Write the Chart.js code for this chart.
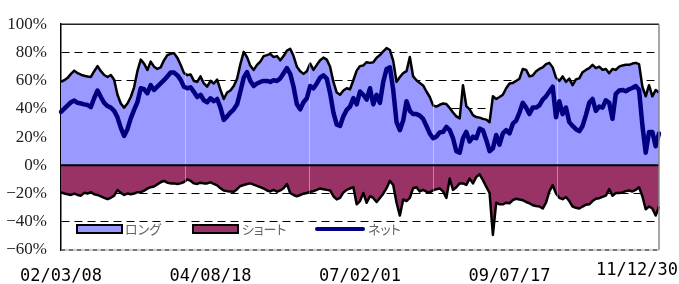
<!DOCTYPE html>
<html>
<head>
<meta charset="utf-8">
<script src="https://cdn.jsdelivr.net/npm/chart.js@4.4.1/dist/chart.umd.min.js"></script>
<style>
  html, body { margin: 0; padding: 0; background: #fff; }
  #wrap { position: relative; width: 679px; height: 284px; }
  #legend { position: absolute; left: 0; top: 0; font-family: "Noto Sans CJK JP", sans-serif; font-size: 13px; color: #666; font-feature-settings: "palt"; }
  .sw { position: absolute; box-sizing: border-box; border: 2px solid #000; width: 47px; height: 10px; top: 224px; }
  .ln { position: absolute; top: 227px; width: 50px; height: 4px; border-radius: 2px; }
  .lbl { position: absolute; top: 219px; line-height: 20px; white-space: nowrap; }
</style>
</head>
<body>
<div id="wrap">
  <canvas id="c" width="679" height="284"></canvas>
  <div id="legend"></div>
</div>
<script>
const tickLabels = ['02/03/08', '04/08/18', '07/02/01', '09/07/17', '11/12/30'];
const seriesNames = ['ロング', 'ショート', 'ネット'];

const longPct = [
  59.1, 60.3, 62, 64.8, 67.1, 65.3, 64.2, 63.5, 63, 62.6, 66.7, 70.3, 66.7, 64, 62.6, 64, 60.7, 50, 43.8, 40.9,
  43.8, 48.4, 55.3, 66.7, 74.9, 72.1, 67.6, 73.5, 69.9, 68.3, 69.4,
  74.4, 78.1, 79, 79.5, 76.3, 71.2, 65.5, 63.9, 64.4, 59.8, 59.1, 63, 58, 55.7, 59.8, 58, 60.7, 53.4, 47, 51.6,
  53, 56.2, 61.4, 71.7, 80.4, 76.7, 70.5, 67.6, 71.2, 73.5,
  77.4, 78.1, 79, 76.7, 77.4, 74.4, 77.4, 81.3, 82.6, 77.4, 69.9, 66.7, 64.8, 66.7, 72.1, 67.6, 71.2, 74.4, 76.3, 74.9,
  69.9, 59.1, 51.6, 50, 53, 54.6, 53.9, 60.3, 67.1, 70.3,
  70.8, 73.1, 72.6, 73.1, 76.3, 78.1, 80.8, 83.1, 81.7, 74, 59.1, 62.6, 65.3, 66.7, 76.7, 63, 60.3, 58.4, 56.6, 52.3,
  48.4, 42.5, 41.6, 42.9, 43.8, 43.4, 40.6, 37.4, 34.7, 33.3,
  56.8, 42, 39.7, 35.6, 34.2, 33.8, 32.9, 32.4, 30.6, 48.9, 47, 48.4, 50, 54.6, 58, 58.4, 59.8, 61.4, 68.3, 67.6,
  63, 63.7, 66.7, 68.3, 69.4, 71.7, 72.6, 69.4, 62.1, 59.8,
  63, 59.1, 61.4, 56.8, 60.9, 61.6, 66, 67.6, 68.9, 71.2, 68.9, 69.9, 67.6, 68.3, 65.3, 68.3, 67.6, 69.9, 70.8, 71.2,
  71.2, 72.1, 72.6, 71.7, 55.7, 48.9, 56.8, 48.9, 53.4, 51.6
];

// short positions (%), bottom black edge of the maroon area
const shortPct = [
  -19, -20, -20.5, -21, -20, -21, -21.5, -19.5, -20, -19, -20.5, -21, -22, -23, -24, -23, -21.5, -17.5, -19.5, -21,
  -20, -20.5, -20, -19, -19, -18, -16.5, -15.5, -15, -13.5, -12,
  -11, -12.3, -12.8, -12.8, -13.2, -12.8, -11.9, -10, -11, -12.8, -13.2, -12.3, -12.8, -12.8, -12.1, -13.2, -14.2, -16.2, -17.8, -18.3,
  -18.5, -18.7, -16.9, -14.6, -13.9, -13.2, -12.8, -13.7, -14.6, -15.5,
  -16.4, -17.8, -18.5, -17.4, -18.7, -17.8, -16.2, -13.2, -19.6, -21, -21.9, -21, -20.1, -19.6, -18.7, -18.3, -17.4, -16.4, -16.9, -17.4,
  -17.8, -21.9, -24.2, -23.1, -19.2, -17.4, -16.4, -15.5, -27.6, -25.3,
  -19.6, -26.5, -21.9, -23.1, -26, -23.1, -20.1, -16.2, -11, -13.9, -26.5, -35.6, -24.2, -25.3, -23.1, -16.2, -15.5, -18.5, -17.4, -18.7,
  -19.2, -17.8, -16.9, -16.4, -18.5, -23.1, -9.4, -17.4, -15.5, -12.8,
  -12.8, -13.9, -9.4, -12.8, -8.2, -6.4, -10.5, -15.1, -19.6, -49.3, -26.5, -27.6, -27.6, -26.5, -26.9, -24.7, -23.7, -24.2, -24.7, -26,
  -26.9, -28.3, -28.8, -29.2, -30.6, -26.5, -18.5, -14, -20, -23,
  -24, -22.4, -25.3, -29.2, -30.1, -30.6, -29.2, -27.9, -27.6, -25.3, -23.7, -23.3, -22.4, -21.5, -16.9, -21.5, -19.6, -19.6, -19.2, -18.3,
  -17.8, -18.5, -17.4, -15.5, -21.9, -31.1, -29.2, -30.6, -35.6, -29.2
];

// net (%), the thick navy line
const netPct = [
  37.9, 40.2, 42.5, 44.7, 45.9, 44.3, 43.8, 43.2, 42.7, 41.3, 47.7, 53, 48.4, 44.3, 42, 40.9, 38.6, 34, 26.5, 20.8,
  25.6, 33.3, 39.3, 44.7, 54.6, 53.9, 51.1, 56.8, 53.4, 55.7, 58,
  60.3, 63, 65.8, 65.8, 63.9, 60.7, 55.7, 54.6, 55.3, 52.1, 48.4, 50, 46.1, 44.7, 47.5, 45.4, 47, 40.9, 32.2, 34.7,
  37.4, 39.7, 43.2, 52.3, 62.1, 66, 59.8, 56.2, 58, 59.1,
  59.8, 59.8, 59.1, 60.3, 59.8, 61.6, 65.3, 68.9, 64.8, 55.7, 43.2, 39.7, 44.7, 47.5, 56.2, 54.6, 58, 62.1, 63.7, 61.4,
  51.1, 37.4, 28.8, 27.9, 34.7, 39.3, 41.6, 47.7, 43.2, 52.3,
  50, 46.6, 54.6, 43.2, 50, 44.3, 59.1, 68.3, 69.4, 53.4, 30.6, 24.9, 31.7, 45.4, 38.6, 36.3, 36.3, 35.2, 32.9, 27.9,
  22.6, 19.2, 20.3, 23.3, 23.7, 27.2, 24.9, 19.2, 10, 8.9,
  19.2, 23.7, 16.9, 20.3, 19.2, 26, 24.9, 18, 10, 12, 21.5, 14.6, 22.6, 24.9, 22.6, 29.5, 31.7, 37.4, 44.3, 40.9,
  36.3, 40.9, 40.9, 42.5, 46.6, 48.9, 52.3, 55.7, 34, 45.4,
  36.3, 40.9, 30.6, 27.9, 25.6, 24.2, 27.9, 35.6, 44.3, 47, 38.6, 41.6, 40.9, 46.1, 44.3, 32.9, 50.7, 53, 53.4, 52.5,
  53.9, 54.8, 56.2, 53.4, 28.3, 8.9, 23.7, 23.7, 13.5, 22.6
];

const colors = { long: '#9999ff', short: '#993366', net: '#000080' };

// one date label every `step` points, blank in between
const step = (longPct.length - 1) / (tickLabels.length - 1);
const labels = longPct.map((v, i) => (i % step === 0 ? tickLabels[i / step] : ''));
const lastIdx = labels.length - 1;

const xFont = { family: 'DejaVu Sans Mono', size: 17 };

// plot frame, zero line, the faint seams in the fills, and the last date label
const framePlugin = {
  id: 'frame',
  beforeDatasetDraw(chart, args) {
    if (args.index !== 0) return; // just before the net line
    const { ctx, chartArea: a, scales: { x, y } } = chart;
    ctx.save();
    ctx.strokeStyle = 'rgba(255,255,255,0.4)';
    ctx.lineWidth = 1;
    [1, 2, 3, 4].forEach(i => {
      const px = Math.round(x.getPixelForDecimal(i * 124 / 598)) + 0.5;
      ctx.beginPath(); ctx.moveTo(px, a.top); ctx.lineTo(px, a.bottom); ctx.stroke();
    });
    const y0 = y.getPixelForValue(0);
    ctx.strokeStyle = '#000';
    ctx.lineWidth = 2;
    ctx.beginPath(); ctx.moveTo(a.left, y0); ctx.lineTo(a.right, y0); ctx.stroke();
    ctx.restore();
  },
  afterDraw(chart) {
    const { ctx, chartArea: a } = chart;
    ctx.save();
    ctx.lineWidth = 1.5;
    ctx.strokeStyle = '#222';
    ctx.beginPath(); ctx.moveTo(a.left, a.top); ctx.lineTo(a.right, a.top); ctx.stroke();
    ctx.strokeStyle = '#888';
    ctx.beginPath(); ctx.moveTo(a.right, a.top); ctx.lineTo(a.right, a.bottom); ctx.stroke();
    ctx.strokeStyle = '#bbb';
    ctx.beginPath(); ctx.moveTo(a.left, a.bottom); ctx.lineTo(a.right, a.bottom); ctx.stroke();
    ctx.strokeStyle = '#555';
    ctx.setLineDash([4, 4]);
    ctx.beginPath(); ctx.moveTo(a.left, a.bottom); ctx.lineTo(a.right, a.bottom); ctx.stroke();
    ctx.setLineDash([]);
    // Excel pushed this one inside the page and a bit higher
    ctx.font = xFont.size + 'px "' + xFont.family + '"';
    ctx.fillStyle = '#000';
    ctx.textAlign = 'right';
    ctx.textBaseline = 'middle';
    ctx.fillText(tickLabels[tickLabels.length - 1], chart.width - 1, 271);
    ctx.restore();
  }
};

new Chart(document.getElementById('c'), {
  type: 'line',
  data: {
    labels: labels,
    datasets: [
      { label: seriesNames[2], data: netPct, borderColor: colors.net, borderWidth: 4.5, fill: false, order: 0,
        borderJoinStyle: 'round', borderCapStyle: 'round' },
      { label: seriesNames[0], data: longPct, borderColor: '#000', borderWidth: 2.5, backgroundColor: colors.long,
        fill: 'origin', order: 1, borderJoinStyle: 'round' },
      { label: seriesNames[1], data: shortPct, borderColor: '#000', borderWidth: 2.5, backgroundColor: colors.short,
        fill: 'origin', order: 2, borderJoinStyle: 'round' }
    ]
  },
  options: {
    responsive: false,
    animation: false,
    layout: { padding: { top: 17, right: 20, left: 0, bottom: 0 } },
    elements: { point: { radius: 0 }, line: { tension: 0 } },
    plugins: { legend: { display: false }, tooltip: { enabled: false } },
    scales: {
      x: {
        grid: { display: false, drawTicks: false },
        border: { display: false },
        afterFit: s => { s.height = 34; },
        ticks: {
          autoSkip: false, maxRotation: 0, minRotation: 0, padding: 16,
          color: '#000', font: xFont,
          callback: (v, i) => (i === lastIdx ? '' : labels[i])
        }
      },
      y: {
        min: -60, max: 100,
        afterFit: s => { s.width = 61; },
        grid: {
          drawTicks: false,
          color: c => ([100, 0, -60].includes(c.tick.value) ? 'rgba(0,0,0,0)' : '#000'),
          lineWidth: 1
        },
        border: { display: true, color: '#000', width: 1.5, dash: [8, 5] },
        ticks: {
          stepSize: 20, padding: 14, color: '#222',
          font: { family: 'Liberation Serif', size: 17 },
          callback: v => (v < 0 ? '\u2212' + Math.abs(v) : v) + '%'
        }
      }
    }
  },
  plugins: [framePlugin]
});

// legend inside the plot, like the original
const legendItems = [
  { name: seriesNames[0], kind: 'box', color: colors.long, x: 76, tx: 125 },
  { name: seriesNames[1], kind: 'box', color: colors.short, x: 192, tx: 242 },
  { name: seriesNames[2], kind: 'line', color: colors.net, x: 315, tx: 368 }
];
const legend = document.getElementById('legend');
legendItems.forEach(it => {
  const sw = document.createElement('div');
  sw.className = it.kind === 'box' ? 'sw' : 'ln';
  sw.style.left = it.x + 'px';
  sw.style.background = it.color;
  legend.appendChild(sw);
  const t = document.createElement('div');
  t.className = 'lbl';
  t.style.left = it.tx + 'px';
  t.textContent = it.name;
  legend.appendChild(t);
});
</script>
</body>
</html>
